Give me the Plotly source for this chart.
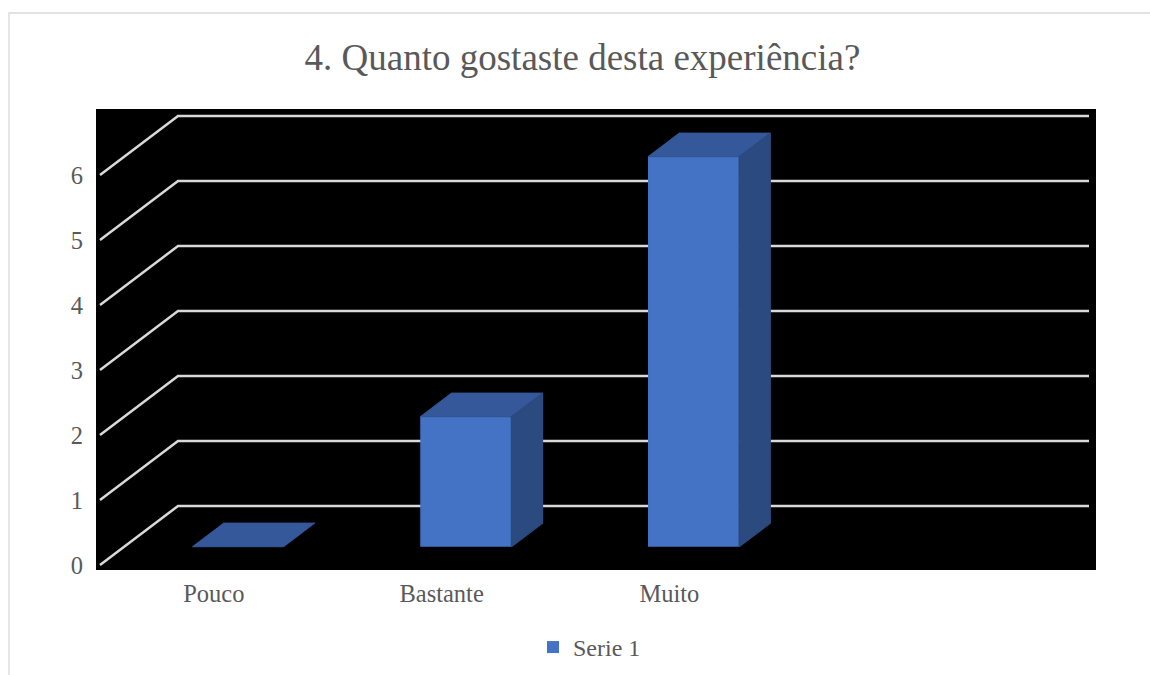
import plotly.graph_objects as go

# Survey answers
categories = ["Pouco", "Bastante", "Muito"]
values = [0, 2, 6]
series_name = "Serie 1"
y_ticks = [0, 1, 2, 3, 4, 5, 6]
title_text = "4. Quanto gostaste desta experiência?"

# Oblique 3D look: depth of the floor expressed in axis units
N_SLOTS = 4            # category slots along the floor
DX = 0.3425            # horizontal shift of the back wall (category units)
DY = 0.9077            # vertical shift of the back wall (value units)
BAR_W = 0.4            # bar width (category units)
Z0, Z1 = 0.31, 0.71    # bar front/back depth as fraction of the floor

FRONT = "#4472C4"
TOP = "#34589A"
SIDE = "#2B4A80"
GRID = "#D9D9D9"
TEXT = "#595959"
FONT = "Liberation Serif"


def at_depth(x, y, z):
    return x + z * DX, y + z * DY


fig = go.Figure()

# Front faces of the bars
fig.add_trace(go.Bar(
    x=[i + Z0 * DX for i in range(len(values))],
    y=values,
    base=Z0 * DY,
    width=BAR_W,
    name=series_name,
    marker=dict(color=FRONT, line=dict(width=0)),
    showlegend=True,
    hoverinfo="skip",
))

# Top and right-side faces
for i, v in enumerate(values):
    xl, xr = i - BAR_W / 2, i + BAR_W / 2
    top = [at_depth(xl, v, Z0), at_depth(xr, v, Z0),
           at_depth(xr, v, Z1), at_depth(xl, v, Z1)]
    fig.add_trace(go.Scatter(
        x=[p[0] for p in top] + [top[0][0]],
        y=[p[1] for p in top] + [top[0][1]],
        mode="lines", fill="toself", fillcolor=TOP,
        line=dict(color=TOP, width=1),
        showlegend=False, hoverinfo="skip",
    ))
    if v > 0:
        side = [at_depth(xr, 0, Z0), at_depth(xr, v, Z0),
                at_depth(xr, v, Z1), at_depth(xr, 0, Z1)]
        fig.add_trace(go.Scatter(
            x=[p[0] for p in side] + [side[0][0]],
            y=[p[1] for p in side] + [side[0][1]],
            mode="lines", fill="toself", fillcolor=SIDE,
            line=dict(color=SIDE, width=1.2),
            showlegend=False, hoverinfo="skip",
        ))

# Gridlines: left-wall diagonal joined to the back-wall horizontal
shapes = []
x_front = -0.5
x_back_l, x_back_r = x_front + DX, N_SLOTS - 0.5 + DX
for t in y_ticks:
    path = (f"M {x_front},{t} L {x_back_l},{t + DY} "
            f"L {x_back_r},{t + DY}")
    shapes.append(dict(type="path", path=path, xref="x", yref="y",
                       layer="below",
                       line=dict(color=GRID, width=2.5)))

# Light frame around the chart
shapes.append(dict(type="rect", xref="paper", yref="paper",
                   x0=-0.087, x1=1.2, y0=-0.5, y1=1.2082,
                   layer="above", line=dict(color=GRID, width=1.3),
                   fillcolor="rgba(0,0,0,0)"))

fig.update_layout(
    width=1150, height=675,
    margin=dict(l=96, r=54, t=109, b=105, autoexpand=False),
    paper_bgcolor="white",
    plot_bgcolor="black",
    shapes=shapes,
    title=dict(text=title_text, x=0.5065, xref="container", xanchor="center",
               y=0.915, yref="container", yanchor="middle",
               font=dict(family=FONT, size=37, color=TEXT)),
    xaxis=dict(range=[-0.51756, 3.87322], showgrid=False, zeroline=False,
               showline=False, tickvals=list(range(len(categories))),
               ticktext=categories, ticks="", ticklabelstandoff=6,
               tickfont=dict(family=FONT, size=24.5, color=TEXT),
               fixedrange=True),
    yaxis=dict(range=[-0.07692, 7.01538], showgrid=False, zeroline=False,
               showline=False, tickvals=y_ticks,
               ticktext=[str(t) for t in y_ticks], ticks="",
               ticklabelstandoff=12,
               tickfont=dict(family=FONT, size=24.5, color=TEXT),
               fixedrange=True),
    legend=dict(orientation="h", x=0.437, xanchor="left", y=-0.168,
                yanchor="middle", font=dict(family=FONT, size=24, color=TEXT),
                bgcolor="rgba(0,0,0,0)"),
    showlegend=True,
)

fig.write_html("out.html")
